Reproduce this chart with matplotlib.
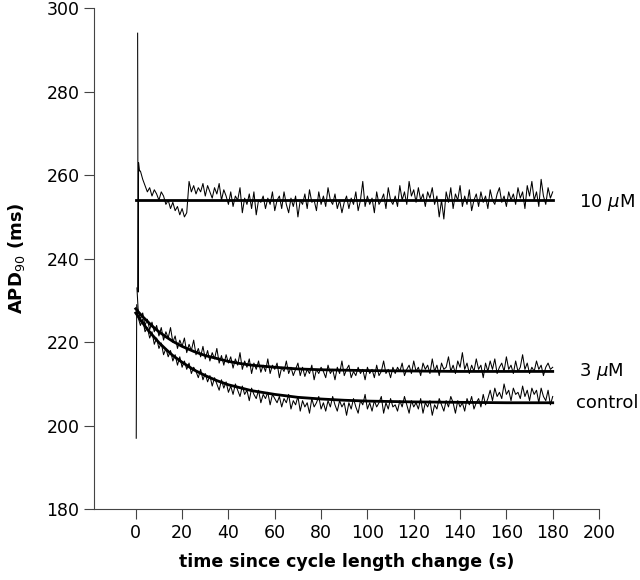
import numpy as np
import matplotlib.pyplot as plt

# time axis (s) for the beat-to-beat traces, after the onset samples
t_trace = np.arange(2, 181)

# onset samples (first beats after the cycle length change)
onset_t_10 = [0.8, 1.0, 1.2, 1.6]
onset_y_10 = [294, 232, 263, 261]
onset_t_3 = [0.5, 1.0]
onset_y_3 = [233, 228]
onset_t_ctl = [0.2, 0.4, 1.0]
onset_y_ctl = [197, 229, 226]

apd_10uM = [
    261, 259, 257.5, 256, 257, 255, 256.5, 255.5, 254, 256,
    255, 253, 254, 252, 253.5, 251.5, 252.5, 250.5, 252, 250,
    251, 258.5, 256, 257.5, 255.5, 257, 256, 258, 255, 257.5,
    256, 254.5, 257, 255.5, 258, 254, 256.5, 255, 253, 256,
    252.5, 255, 254, 257, 251, 254.5, 253, 255.5, 252, 256,
    250.5, 254, 253.5, 255, 252, 254.5, 253, 256, 251.5, 254,
    255, 252, 256, 253, 251, 254.5, 252.5, 255, 250, 254,
    253, 255.5, 252, 256.5, 253.5, 254, 251.5, 256, 253, 255,
    252.5, 257, 254, 253, 255.5, 252, 254, 251, 253.5, 255,
    252, 254.5, 253, 256, 251.5, 254, 258.5, 252.5, 255, 253,
    254.5, 251, 256, 253, 254, 255.5, 252, 257, 254, 253,
    255, 252.5, 257.5, 254, 256, 253, 258.5, 255, 256.5, 253.5,
    257, 254, 255.5, 252.5, 256, 254.5, 257, 253, 255, 250,
    254, 249.5, 256, 253.5, 257, 252, 255.5, 254, 257.5, 252.5,
    255, 253, 256.5, 251.5, 254, 255.5, 252.5, 256, 253.5, 255,
    252, 256.5, 254, 253, 255.5, 257, 253.5, 255, 252.5, 256,
    254, 255.5, 253, 257, 254.5, 256, 252, 257.5, 255, 258.5,
    254, 256, 252.5, 259, 255, 253, 257, 254.5, 256,
]

apd_3uM = [
    225.5, 227, 224, 225.5, 223, 224.8, 222.5, 224, 221.5, 223.5,
    220.5, 222.5, 221, 223.5, 220, 221.5, 218.5, 220.5, 219, 221,
    217.5, 219.5, 218, 220.5, 217, 218.5, 216.5, 219, 216, 218,
    215.5, 217.5, 216, 218.5, 215, 216.8, 214.5, 217, 215, 216.5,
    213.8, 216, 214.5, 217.5, 213.5, 215.5, 214, 216, 212.5, 215,
    213.5, 215.5, 212.8, 214.5, 213, 216, 212.5, 214.5, 213.5, 215,
    211.5, 214, 213, 215.5, 212.5, 214, 212, 213.5, 215, 212,
    214, 211.8, 213.5, 212.5, 214.5, 211, 213.5, 212.5, 214, 213,
    211.5, 214.5, 212.5, 213.5, 211, 214, 212.5, 215.5, 212, 213.5,
    214.5, 211.5, 213, 212, 214, 212.5, 213.5, 211, 214, 212.5,
    213.5, 211.5, 214.5, 212, 213, 215.5, 212.5, 213.5, 211.5, 214,
    212.5, 214, 213, 215, 212, 213.5, 214.5, 212.5, 215.5, 213,
    214, 212, 215, 213.5, 214.5, 212.5, 216, 213, 214.5, 212,
    215, 213.5, 214, 216.5, 213, 214.5, 212.5, 215.5, 214, 217.5,
    213.5, 215, 212.5, 214.5, 213, 216, 213.5, 214.5, 211.5, 215,
    213, 215.5, 213.5, 216, 212.5, 214, 215, 213, 216.5, 213.5,
    214.5, 212.5, 215.5, 213, 214, 217, 213.5, 215, 212.5, 214,
    213, 215.5, 213.5, 214.5, 212, 214, 215, 213.5, 214,
]

apd_control = [
    224, 225.5, 222.5, 223.5, 221, 222.5, 219.5, 221, 218.5, 219.8,
    217, 218.5, 216.5, 218, 215.5, 217, 214.5, 216.5, 214, 215.5,
    213.5, 215, 212.5, 214, 213, 211.5, 213.5, 211, 212.5, 210.5,
    212, 209.5, 211.5, 210, 208.5, 211, 209, 210.5, 208, 209.5,
    207.5, 210, 208.5, 207, 209.5, 207.5, 208.5, 206, 209, 207.5,
    206.5, 208.5, 205.5, 207.5, 206.5, 208, 205, 207.5, 206.5, 205.5,
    207, 204.5, 206.5, 205.5, 207.5, 204, 206, 205, 207, 203.5,
    206, 204.5, 205.5, 203, 206.5, 204.5, 205.5, 207, 204, 205.5,
    203.5, 206, 204.5, 207, 205, 203.5, 206, 204.5, 205.5, 202.5,
    205.5, 204, 206.5, 204.5, 203, 206, 205, 207.5, 204, 205.5,
    203.5, 206, 204.5, 205.5, 207, 203, 205.5, 204, 206.5, 204.5,
    205, 203.5, 206, 204.5, 207, 205, 203, 206, 204.5, 205.5,
    204, 206.5, 203, 205.5, 204.5, 206, 202.5, 205, 204, 206.5,
    205, 203.5, 206, 204.5, 207, 205.5, 203, 206, 204.5, 205.5,
    203.5, 206.5, 205, 207, 204, 205.5, 206.5, 204.5, 207.5, 205,
    206.5, 208.5, 206, 209, 207, 208, 206.5, 210, 207.5, 208.5,
    206, 209, 207.5, 208, 206.5, 209.5, 207, 208.5, 206, 209,
    207.5, 208.5, 205.5, 209, 207, 206, 208.5, 205, 207,
]

# fitted mono-exponential curves
t_fit = [0, 1, 2, 3, 5, 7, 10, 13, 16, 20, 25, 30, 35, 40, 45, 50,
         60, 70, 80, 90, 100, 120, 140, 160, 180]
fit_3uM = [228.0, 227.3, 226.7, 226.1, 225.0, 223.9, 222.5, 221.3, 220.2,
           219.0, 217.8, 216.8, 216.1, 215.4, 214.9, 214.5, 214.0, 213.6,
           213.4, 213.3, 213.2, 213.1, 213.0, 213.0, 213.0]
fit_control = [227.0, 226.2, 225.3, 224.6, 223.1, 221.8, 219.9, 218.3, 216.8,
               215.2, 213.4, 212.0, 210.8, 209.8, 209.1, 208.4, 207.5, 206.8,
               206.4, 206.1, 205.9, 205.7, 205.6, 205.5, 205.5]
t_fit_10 = [0, 180]
fit_10uM = [254, 254]

labels = ['10 $\\mu$M', '3 $\\mu$M', 'control']
label_x = [191.5, 191.5, 190]
label_y = [253.5, 213, 205.5]

fig = plt.figure(figsize=(6.4, 5.8), dpi=100)
ax = fig.add_axes([0.147, 0.122, 0.789, 0.864])

lw_noise = 0.75
ax.plot(onset_t_10 + list(t_trace), onset_y_10 + apd_10uM, color='black', lw=lw_noise)
ax.plot(onset_t_3 + list(t_trace), onset_y_3 + apd_3uM, color='black', lw=lw_noise)
ax.plot(onset_t_ctl + list(t_trace), onset_y_ctl + apd_control, color='black', lw=lw_noise)

ax.plot(t_fit_10, fit_10uM, color='black', lw=2)
ax.plot(t_fit, fit_3uM, color='black', lw=2)
ax.plot(t_fit, fit_control, color='black', lw=2)

for lab, x, y in zip(labels, label_x, label_y):
    ax.text(x, y, lab, fontsize=13, va='center', ha='left', clip_on=False)

ax.set_xlim(-18, 200)
ax.set_ylim(180, 300)
ax.set_xticks(np.arange(0, 201, 20))
ax.set_yticks(np.arange(180, 301, 20))
ax.tick_params(direction='out', length=7, width=0.8, colors='#444444',
               labelcolor='black', labelsize=12.5)
for s in ['top', 'right']:
    ax.spines[s].set_visible(False)
for s in ['left', 'bottom']:
    ax.spines[s].set_color('#444444')
    ax.spines[s].set_linewidth(0.8)

ax.set_xlabel('time since cycle length change (s)', fontsize=12.5, fontweight='bold', labelpad=8)
ax.set_ylabel('APD$_{90}$ (ms)', fontsize=13, fontweight='bold', labelpad=14)

fig.savefig('out.png', dpi=100)
